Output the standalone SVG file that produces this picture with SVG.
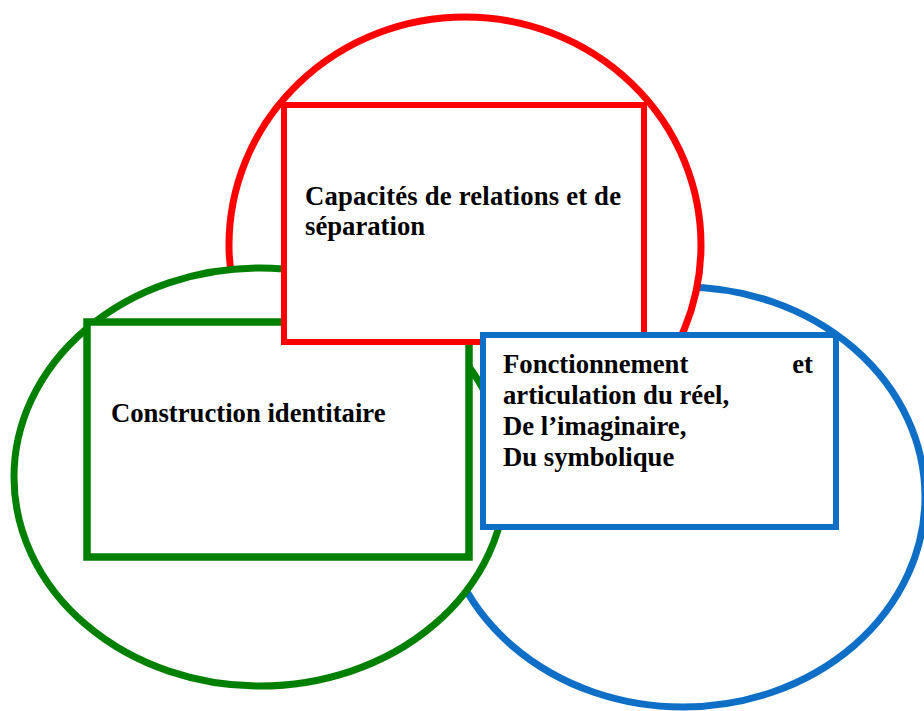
<svg xmlns="http://www.w3.org/2000/svg" width="924" height="711" viewBox="0 0 924 711">
<style>
.shape{fill:#fff}
.red{stroke:#ff0000}
.green{stroke:#008000}
.blue{stroke:#0f6fc6}
.ell{stroke-width:7}
.t{font-family:"Liberation Serif","Times New Roman",serif;font-weight:bold;font-size:26.7px;fill:#000}
</style>
<rect width="924" height="711" fill="#fff"/>
<g id="ellipse-blue"><ellipse class="shape blue ell" cx="683" cy="497" rx="242" ry="210"/></g>
<g id="ellipse-red"><ellipse class="shape red ell" cx="465" cy="245" rx="236" ry="228"/></g>
<g id="ellipse-green"><ellipse class="shape green ell" cx="260" cy="477" rx="246" ry="209"/></g>
<g id="node-construction">
<rect class="shape green" x="87" y="322" width="382" height="235" stroke-width="7.5"/>
<text class="t" x="111" y="422">Construction identitaire</text>
</g>
<g id="node-capacites">
<rect class="shape red" x="284" y="105" width="360" height="237" stroke-width="6"/>
<text class="t" x="305" y="205" textLength="316" lengthAdjust="spacing">Capacités de relations et de</text>
<text class="t" x="305" y="235">séparation</text>
</g>
<g id="node-fonctionnement">
<rect class="shape blue" x="483" y="335" width="353" height="192" stroke-width="6"/>
<text class="t" x="503" y="373">Fonctionnement</text>
<text class="t" x="813" y="373" text-anchor="end">et</text>
<text class="t" x="503" y="404">articulation du réel,</text>
<text class="t" x="503" y="435">De l’imaginaire,</text>
<text class="t" x="503" y="466">Du symbolique</text>
</g>
</svg>
